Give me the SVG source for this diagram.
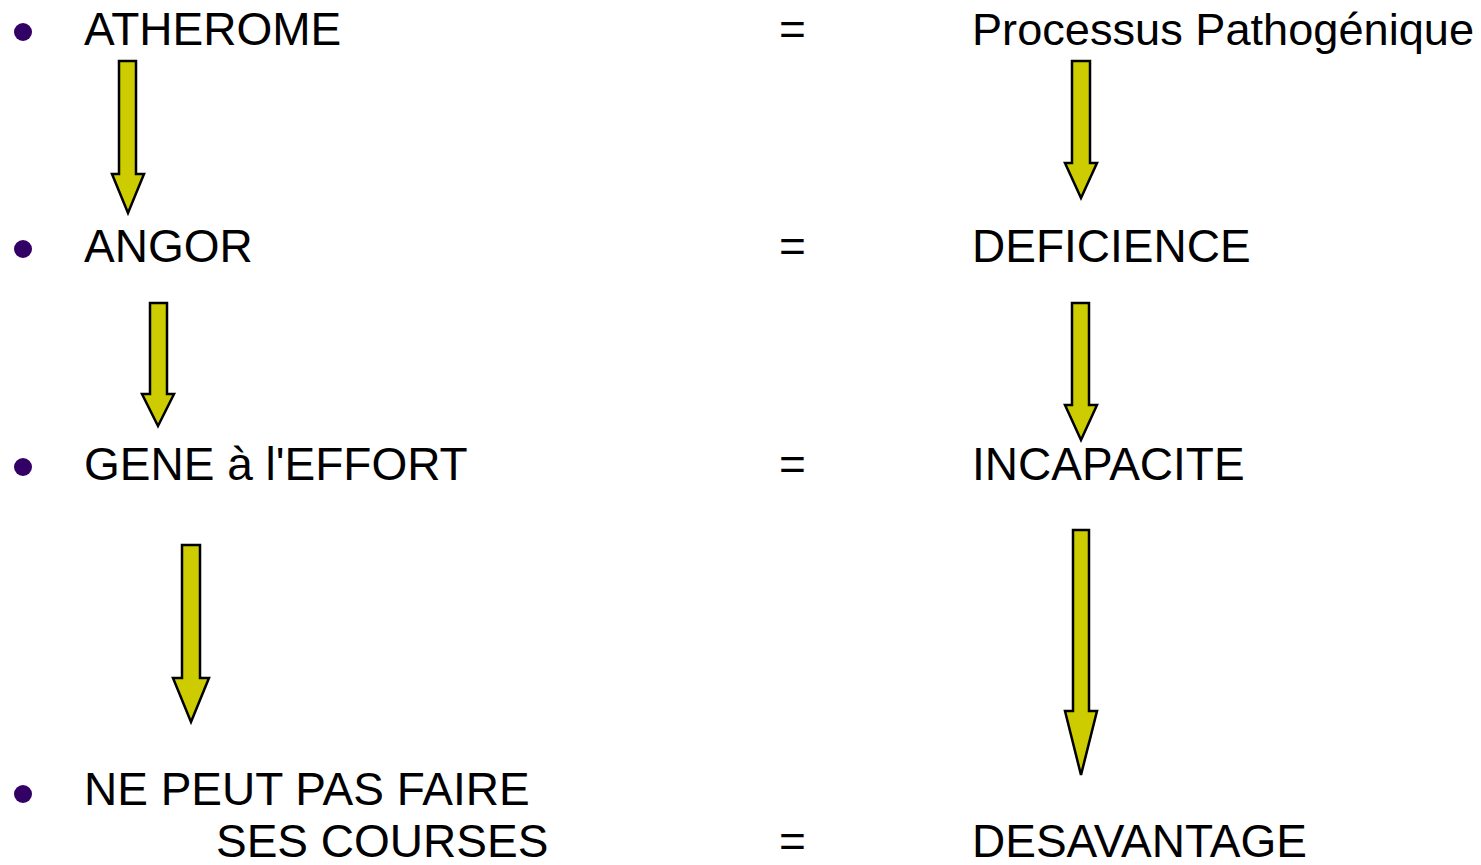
<svg xmlns="http://www.w3.org/2000/svg" width="1481" height="865" viewBox="0 0 1481 865">
  <style>
    .t { font-family: "Liberation Sans", Arial, sans-serif; font-size: 46px; fill: #000; }
    .b { fill: #330066; }
    .arrow { fill: #CCCC00; stroke: #000; stroke-width: 2.5; stroke-linejoin: miter; }
  </style>
  <rect width="1481" height="865" fill="#fff"/>

  <g id="row-atherome">
    <circle class="b" cx="23" cy="32" r="9"/>
    <text class="t" x="84" y="45">ATHEROME</text>
    <text class="t" x="779" y="45">=</text>
    <text class="t" x="972" y="45" style="font-size:45px" textLength="502" lengthAdjust="spacingAndGlyphs">Processus Pathogénique</text>
  </g>
  <g id="row-angor">
    <circle class="b" cx="23" cy="249" r="9"/>
    <text class="t" x="84" y="262">ANGOR</text>
    <text class="t" x="779" y="262">=</text>
    <text class="t" x="972" y="262">DEFICIENCE</text>
  </g>
  <g id="row-gene">
    <circle class="b" cx="23" cy="467" r="9"/>
    <text class="t" x="84" y="480">GENE à l'EFFORT</text>
    <text class="t" x="779" y="480">=</text>
    <text class="t" x="972" y="480">INCAPACITE</text>
  </g>
  <g id="row-courses">
    <circle class="b" cx="23" cy="794" r="9"/>
    <text class="t" x="84" y="805">NE PEUT PAS FAIRE</text>
    <text class="t" x="216" y="857">SES COURSES</text>
    <text class="t" x="779" y="857">=</text>
    <text class="t" x="972" y="857">DESAVANTAGE</text>
  </g>

  <g id="connectors">
    <!-- left column -->
    <polygon class="arrow" points="119,61 136,61 136,174 144,174 128,213 112,174 119,174"/>
    <polygon class="arrow" points="150,303 167,303 167,394 174,394 158,426 142,394 150,394"/>
    <polygon class="arrow" points="182,545 200,545 200,678 209,678 191,722 173,678 182,678"/>
    <!-- right column -->
    <polygon class="arrow" points="1072,61 1090,61 1090,163 1097,163 1081,198 1065,163 1072,163"/>
    <polygon class="arrow" points="1072,303 1089,303 1089,405 1097,405 1081,440 1065,405 1072,405"/>
    <polygon class="arrow" points="1073,530 1089,530 1089,711 1097,711 1081,775 1065,711 1073,711"/>
  </g>
</svg>
